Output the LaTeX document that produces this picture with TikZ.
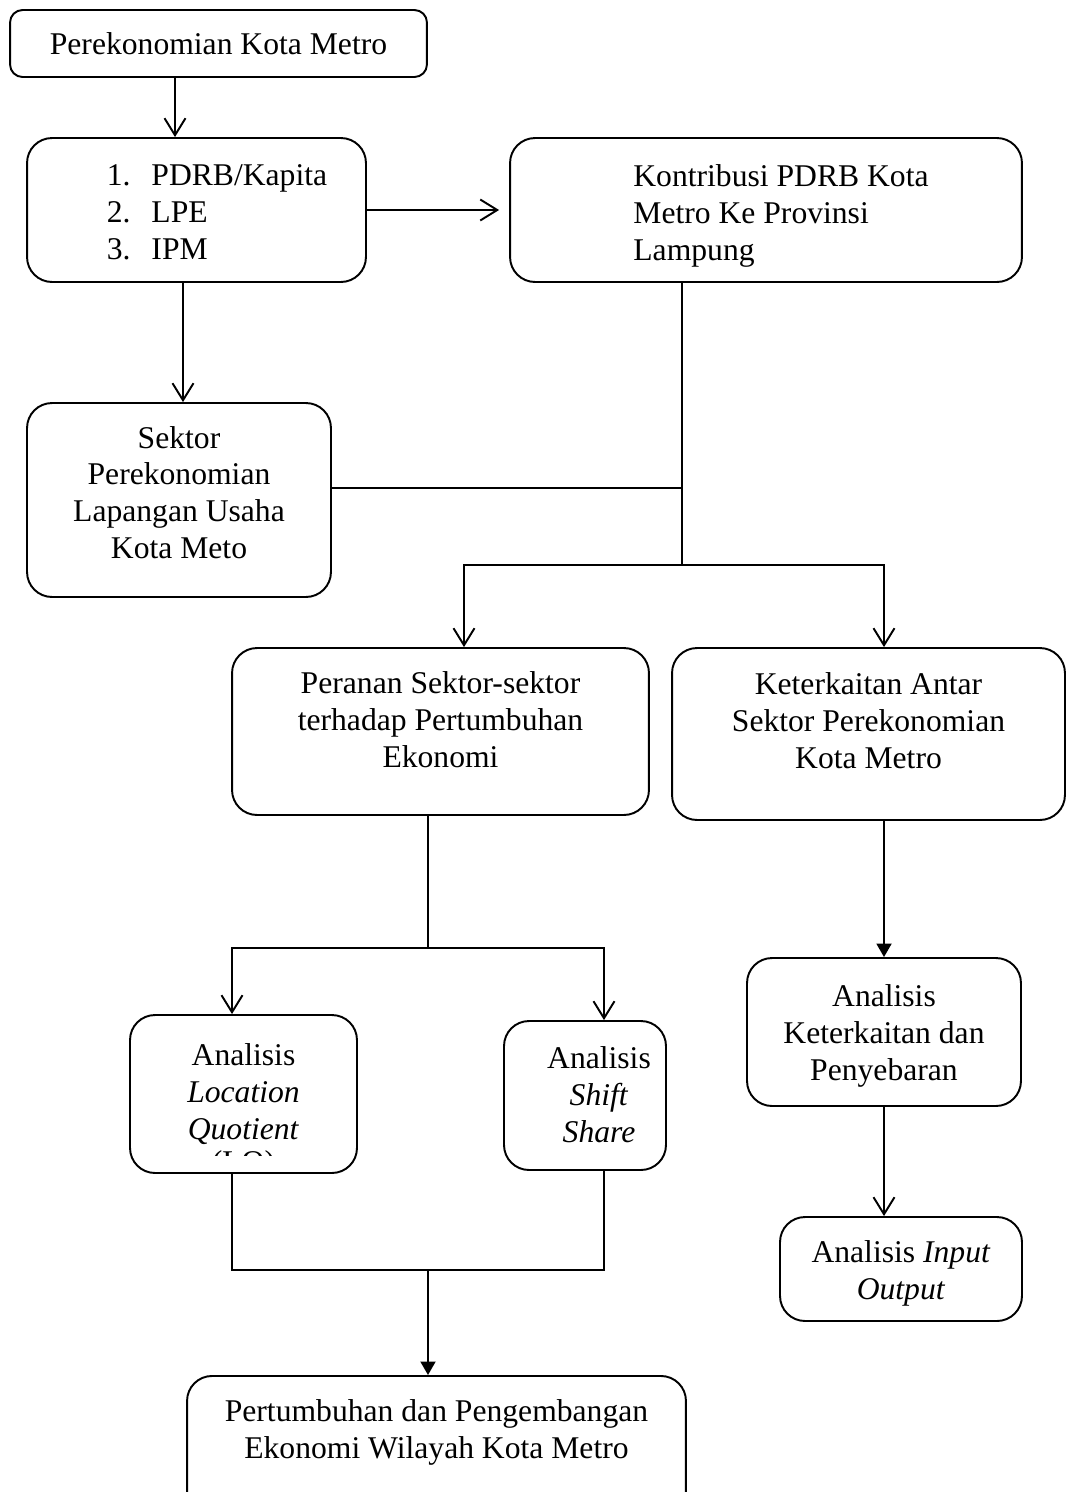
\documentclass[tikz,border=0pt]{standalone}
\usepackage{fontspec}
\setmainfont{Liberation Serif}
\usetikzlibrary{arrows.meta}

\newcommand{\liftbox}[2]{\raisebox{#1}[\height][\depth]{#2}}

\tikzset{
  box/.style={draw, line width=1.1pt, rounded corners=0.5cm, align=center, inner sep=0pt},
  txt/.style={align=center, inner sep=0pt},
  open/.style={-{Straight Barb[length=0.34cm,width=0.42cm]}},
  full/.style={-{Triangle[length=0.27cm,width=0.3cm]}},
}

\begin{document}
\begin{tikzpicture}[x=0.02cm, y=-0.02cm, line width=1.1pt, font=\fontsize{18}{21}\selectfont]
\useasboundingbox (0,0) rectangle (1067,1492);

% boxes
\node[box, rounded corners=0.25cm, minimum width=8.34cm, minimum height=1.34cm] (metro) at (218.5,43.5) {Perekonomian Kota Metro};
\node[box, minimum width=6.78cm, minimum height=2.88cm] (lst) at (196.5,210)
  {\liftbox{-0.1cm}{\begin{tabular}{@{\hspace{0.82cm}}l@{\hspace{0.42cm}}l@{}}1.&PDRB/Kapita\\2.&LPE\\3.&IPM\end{tabular}}};
\node[box, minimum width=10.24cm, minimum height=2.88cm] (kontr) at (766,210)
  {\liftbox{-0.12cm}{\begin{tabular}{@{\hspace{0.6cm}}l@{}}Kontribusi PDRB Kota\\Metro Ke Provinsi\\Lampung\end{tabular}}};
\node[box, minimum width=6.08cm, minimum height=3.88cm] (sektor) at (179,500)
  {\liftbox{0.08cm}{\begin{tabular}{@{}c@{}}Sektor\\Perekonomian\\Lapangan Usaha\\Kota Meto\end{tabular}}};
\node[box, minimum width=8.34cm, minimum height=3.34cm] (per) at (440.5,731.5)
  {\liftbox{0.16cm}{\begin{tabular}{@{}c@{}}Peranan Sektor-sektor\\terhadap Pertumbuhan\\Ekonomi\end{tabular}}};
\node[box, minimum width=7.86cm, minimum height=3.44cm] (ket) at (868.5,734)
  {\liftbox{0.2cm}{\begin{tabular}{@{}c@{}}Keterkaitan Antar\\Sektor Perekonomian\\Kota Metro\end{tabular}}};
\node[box, minimum width=4.54cm, minimum height=3.16cm] (lq) at (243.5,1094)
  {Analisis\\\textit{Location}\\\textit{Quotient}};
\begin{scope}
\clip (130,1015) rectangle (357,1155);
\node[txt] (lqx) at (243.5,1165) {(LQ)};
\end{scope}
\node[box, minimum width=3.24cm, minimum height=2.98cm] (sh) at (585,1095.5)
  {\liftbox{-0.06cm}{\begin{tabular}{@{\hspace{0.56cm}}c@{}}Analisis\\\textit{Shift}\\\textit{Share}\end{tabular}}};
\node[box, minimum width=5.48cm, minimum height=2.96cm] (ana) at (884,1032)
  {\liftbox{-0.08cm}{\begin{tabular}{@{}c@{}}Analisis\\Keterkaitan dan\\Penyebaran\end{tabular}}};
\node[box, minimum width=4.84cm, minimum height=2.08cm] (io) at (901,1269)
  {\liftbox{-0.1cm}{\begin{tabular}{@{}c@{}}Analisis \textit{Input}\\\textit{Output}\end{tabular}}};
\node[box, minimum width=9.98cm, minimum height=2.8cm, anchor=north] (pert) at (436.5,1375) {};
\node[txt] (pertT) at (436.5,1432) {Pertumbuhan dan Pengembangan\\Ekonomi Wilayah Kota Metro};

% junctions
\coordinate (j0) at (682,488);
\coordinate (j1) at (682,565);
\coordinate (j2) at (428,948);
\coordinate (j3) at (428,1270);

% connectors
\draw[open] ([xshift=-0.87cm]metro.south) -- ([xshift=-0.43cm]lst.north);
\draw[open, shorten >=0.2cm] (lst.east) -- (kontr.west);
\draw[open] ([xshift=-0.27cm]lst.south) -- ([xshift=0.08cm]sektor.north);
\draw ([xshift=-1.68cm]kontr.south) -- (j1);
\draw ([yshift=0.24cm]sektor.east) -- (j0);
\draw[open] (j1) -| ([xshift=0.47cm]per.north);
\draw[open] (j1) -| ([xshift=0.31cm]ket.north);
\draw ([xshift=-0.25cm]per.south) -- (j2);
\draw[open] (j2) -| ([xshift=-0.23cm]lq.north);
\draw[open] (j2) -| ([xshift=0.38cm]sh.north);
\draw[full] ([xshift=0.31cm]ket.south) -- (ana.north);
\draw[open] (ana.south) -- ([xshift=-0.34cm]io.north);
\draw ([xshift=-0.23cm]lq.south) |- (j3) -| ([xshift=0.38cm]sh.south);
\draw[full] (j3) -- ([xshift=-0.17cm]pert.north);
\end{tikzpicture}
\end{document}
